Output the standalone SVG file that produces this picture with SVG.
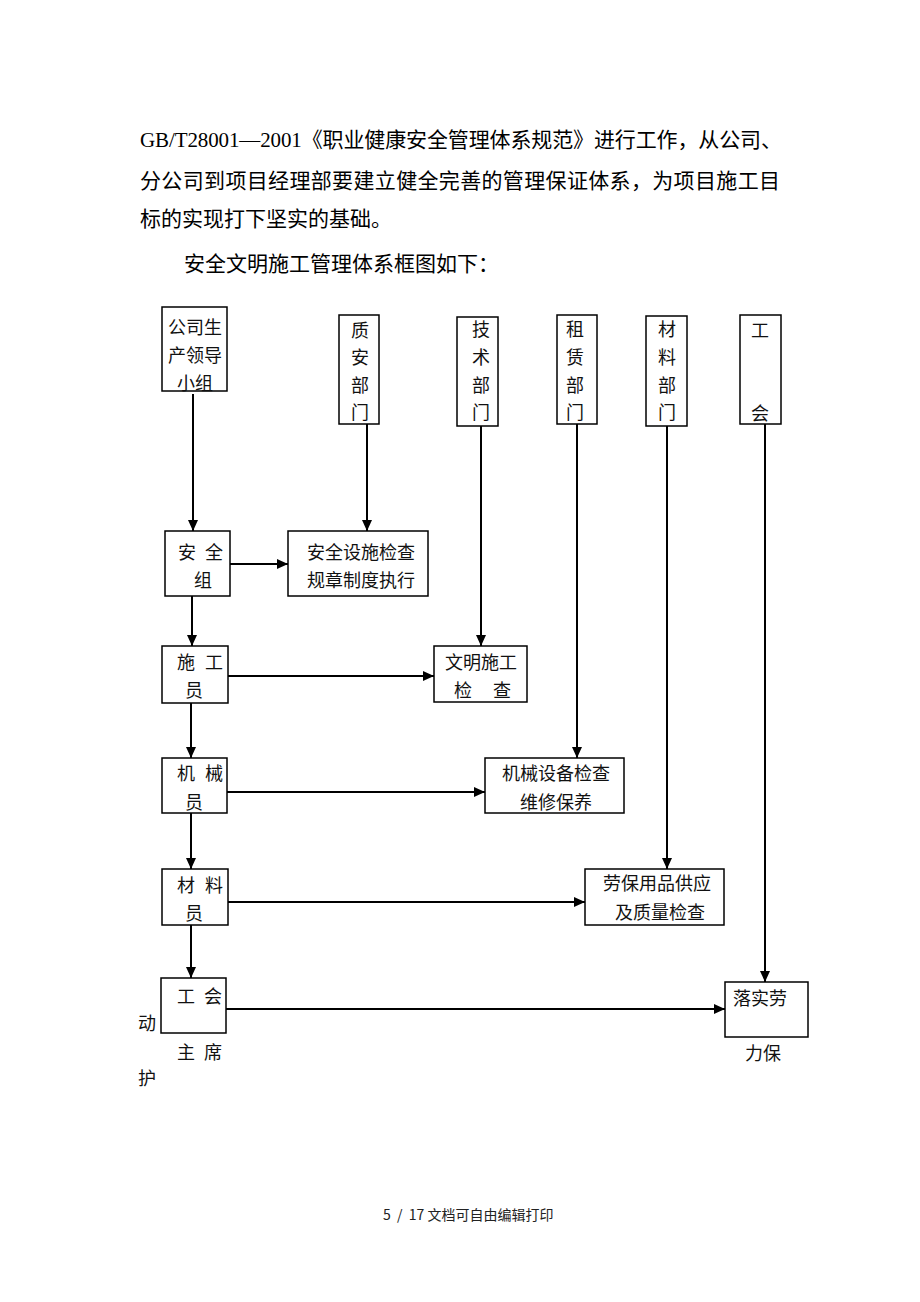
<svg xmlns="http://www.w3.org/2000/svg" width="920" height="1302" viewBox="0 0 920 1302">
<style>
.p{font-family:"Liberation Serif","Noto Sans CJK SC",serif;font-size:21px;fill:#000}
.t{font-family:"Liberation Serif","Noto Sans CJK SC",serif;font-size:18px;fill:#111}
.c{text-anchor:middle}
.b{fill:#fff;stroke:#000;stroke-width:1.5}
.a{stroke:#000;stroke-width:2;fill:none;marker-end:url(#ah)}
.f{font-family:"Noto Sans CJK SC","Noto Sans",sans-serif;font-size:14px;fill:#222}
</style>
<defs>
<marker id="ah" markerUnits="userSpaceOnUse" markerWidth="12" markerHeight="10" refX="11" refY="5" orient="auto">
<path d="M0,0 L11,5 L0,10 z" fill="#000"/>
</marker>
</defs>
<rect width="920" height="1302" fill="#fff"/>

<g id="paragraph">
<text class="p" x="140" y="147" textLength="642" lengthAdjust="spacing">GB/T28001—2001《职业健康安全管理体系规范》进行工作，从公司、</text>
<text class="p" x="140" y="188" textLength="640" lengthAdjust="spacing">分公司到项目经理部要建立健全完善的管理保证体系，为项目施工目</text>
<text class="p" x="140" y="226">标的实现打下坚实的基础。</text>
<text class="p" x="184" y="271">安全文明施工管理体系框图如下：</text>
</g>

<g id="connectors">
<line class="a" x1="193" y1="394" x2="193" y2="531"/>
<line class="a" x1="367" y1="424" x2="367" y2="531"/>
<line class="a" x1="481" y1="426" x2="481" y2="646"/>
<line class="a" x1="577" y1="424" x2="577" y2="758"/>
<line class="a" x1="667" y1="426" x2="667" y2="869"/>
<line class="a" x1="765" y1="424" x2="765" y2="982"/>
<line class="a" x1="230" y1="564" x2="288" y2="564"/>
<line class="a" x1="192" y1="596" x2="192" y2="646"/>
<line class="a" x1="228" y1="676" x2="434" y2="676"/>
<line class="a" x1="191" y1="703" x2="191" y2="758"/>
<line class="a" x1="227" y1="792" x2="485" y2="792"/>
<line class="a" x1="191" y1="813" x2="191" y2="869"/>
<line class="a" x1="228" y1="902" x2="585" y2="902"/>
<line class="a" x1="191" y1="925" x2="191" y2="978"/>
<line class="a" x1="226" y1="1009" x2="725" y2="1009"/>
</g>

<g id="n-leader">
<rect class="b" x="162" y="307" width="65" height="84"/>
<text class="t c" x="195" y="334">公司生</text>
<text class="t c" x="195" y="362">产领导</text>
<text class="t c" x="195" y="390">小组</text>
</g>
<g id="n-zhian">
<rect class="b" x="339" y="315" width="40" height="109"/>
<text class="t c" x="360" y="337">质</text>
<text class="t c" x="360" y="364">安</text>
<text class="t c" x="360" y="392">部</text>
<text class="t c" x="360" y="419">门</text>
</g>
<g id="n-jishu">
<rect class="b" x="457" y="317" width="41" height="109"/>
<text class="t c" x="481" y="336">技</text>
<text class="t c" x="481" y="364">术</text>
<text class="t c" x="481" y="392">部</text>
<text class="t c" x="481" y="419">门</text>
</g>
<g id="n-zulin">
<rect class="b" x="557" y="315" width="40" height="109"/>
<text class="t c" x="575" y="336">租</text>
<text class="t c" x="575" y="364">赁</text>
<text class="t c" x="575" y="392">部</text>
<text class="t c" x="575" y="419">门</text>
</g>
<g id="n-cailiao">
<rect class="b" x="646" y="316" width="41" height="110"/>
<text class="t c" x="667" y="336">材</text>
<text class="t c" x="667" y="364">料</text>
<text class="t c" x="667" y="392">部</text>
<text class="t c" x="667" y="419">门</text>
</g>
<g id="n-gonghui">
<rect class="b" x="740" y="315" width="41" height="109"/>
<text class="t c" x="760" y="337">工</text>
<text class="t c" x="760" y="420">会</text>
</g>

<g id="n-anquanzu">
<rect class="b" x="165" y="531" width="65" height="65"/>
<text class="t" y="559"><tspan x="178">安</tspan><tspan x="205">全</tspan></text>
<text class="t c" x="203" y="587">组</text>
</g>
<g id="n-anquansheshi">
<rect class="b" x="288" y="531" width="140" height="65"/>
<text class="t" x="307" y="559">安全设施检查</text>
<text class="t" x="307" y="587">规章制度执行</text>
</g>
<g id="n-shigongyuan">
<rect class="b" x="162" y="646" width="66" height="57"/>
<text class="t" y="669"><tspan x="177">施</tspan><tspan x="205">工</tspan></text>
<text class="t c" x="194" y="697">员</text>
</g>
<g id="n-wenming">
<rect class="b" x="434" y="646" width="93" height="56"/>
<text class="t" x="445" y="669">文明施工</text>
<text class="t" y="697"><tspan x="454">检</tspan><tspan x="493">查</tspan></text>
</g>
<g id="n-jixieyuan">
<rect class="b" x="162" y="758" width="65" height="55"/>
<text class="t" y="780"><tspan x="177">机</tspan><tspan x="205">械</tspan></text>
<text class="t c" x="194" y="809">员</text>
</g>
<g id="n-jixieshebei">
<rect class="b" x="485" y="758" width="139" height="55"/>
<text class="t" x="502" y="780">机械设备检查</text>
<text class="t" x="520" y="809">维修保养</text>
</g>
<g id="n-cailiaoyuan">
<rect class="b" x="162" y="869" width="66" height="56"/>
<text class="t" y="892"><tspan x="177">材</tspan><tspan x="205">料</tspan></text>
<text class="t c" x="194" y="920">员</text>
</g>
<g id="n-laobao">
<rect class="b" x="585" y="869" width="139" height="56"/>
<text class="t" x="603" y="890">劳保用品供应</text>
<text class="t" x="615" y="919">及质量检查</text>
</g>
<g id="n-zhuxi">
<rect class="b" x="161" y="978" width="65" height="55"/>
<text class="t" y="1003"><tspan x="177">工</tspan><tspan x="204">会</tspan></text>
<text class="t" x="138" y="1030">动</text>
<text class="t" y="1059"><tspan x="177">主</tspan><tspan x="204">席</tspan></text>
<text class="t" x="138" y="1085">护</text>
</g>
<g id="n-luoshi">
<rect class="b" x="725" y="982" width="83" height="55"/>
<text class="t" x="733" y="1005">落实劳</text>
<text class="t" x="745" y="1060">力保</text>
</g>

<g id="footer">
<text class="f" x="383" y="1220" xml:space="preserve">5  /  17 文档可自由编辑打印</text>
</g>
</svg>
